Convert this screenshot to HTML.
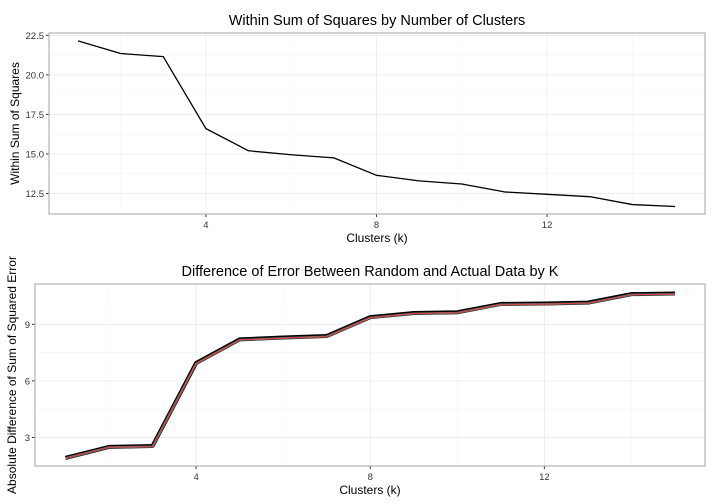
<!DOCTYPE html>
<html><head><meta charset="utf-8"><style>
body{margin:0;background:#fff;}
svg{display:block;font-family:"Liberation Sans",sans-serif;}
</style></head><body>
<svg id="c" width="720" height="504"></svg>
<script>
const ks=[1,2,3,4,5,6,7,8,9,10,11,12,13,14,15];
const wss=[22.15,21.35,21.15,16.6,15.2,14.95,14.75,13.65,13.3,13.1,12.6,12.45,12.3,11.8,11.68];
const diffRandom=[1.92,2.5,2.55,6.95,8.2,8.3,8.38,9.38,9.6,9.64,10.08,10.1,10.15,10.6,10.63];
const diffActual=[1.9,2.48,2.52,6.92,8.17,8.27,8.35,9.35,9.57,9.61,10.05,10.07,10.12,10.57,10.6];
const xTicks=[4,8,12];
const xMinor=[2,6,10,14];
const y1Ticks=[12.5,15,17.5,20,22.5];
const y1Labels=["12.5","15.0","17.5","20.0","22.5"];
const y1Minor=[13.75,16.25,18.75,21.25];
const y2Ticks=[3,6,9];
const y2Minor=[1.5,4.5,7.5,10.5];
const NS="http://www.w3.org/2000/svg";
const svg=document.getElementById('c');
function el(t,a,p){const e=document.createElementNS(NS,t);for(const k in a)e.setAttribute(k,a[k]);(p||svg).appendChild(e);return e;}
function lin(d0,d1,r0,r1){return v=>r0+(v-d0)*(r1-r0)/(d1-d0);}
function panel(o){
  const g=el('g',{});
  
  
  const x=lin(1,15,o.x1,o.x15), y=lin(o.ya,o.yb,o.pa,o.pb);
  o.yMinor.forEach(v=>el('line',{x1:o.L,x2:o.R,y1:y(v),y2:y(v),stroke:'#f5f5f5','stroke-width':0.6},g));
  xMinor.forEach(v=>el('line',{x1:x(v),x2:x(v),y1:o.T,y2:o.B,stroke:'#f5f5f5','stroke-width':0.6},g));
  o.yTicks.forEach((v,i)=>{
    el('line',{x1:o.L,x2:o.R,y1:y(v),y2:y(v),stroke:'#ececec','stroke-width':0.9},g);
    el('line',{x1:o.L-3,x2:o.L,y1:y(v),y2:y(v),stroke:'#333','stroke-width':1},g);
    const t=el('text',{x:o.L-5,y:y(v)+3.5,'text-anchor':'end','font-size':9.5,fill:'#333'},g);
    
    
    t.textContent=o.yLabels[i];
  });
  xTicks.forEach(v=>{
    el('line',{x1:x(v),x2:x(v),y1:o.T,y2:o.B,stroke:'#ececec','stroke-width':0.9},g);
    el('line',{x1:x(v),x2:x(v),y1:o.B,y2:o.B+3,stroke:'#333','stroke-width':1},g);
    const t=el('text',{x:x(v),y:o.B+14,'text-anchor':'middle','font-size':9.5,fill:'#333'},g);
    
    
    t.textContent=v;
  });
  el('rect',{x:o.L,y:o.T,width:o.R-o.L,height:o.B-o.T,fill:'none',stroke:'#b3b3b3','stroke-width':1.2},g);
  o.series.forEach(s=>{
    const p=el('polyline',{points:s.vals.map((v,i)=>x(ks[i])+','+(y(v)+(s.dy||0))).join(' '),fill:'none',stroke:s.c,'stroke-width':s.w,'stroke-linejoin':'round'},g);
    
    
  });
  const tt=el('text',{x:(o.L+o.R)/2,y:o.T-8,'text-anchor':'middle','font-size':14.5,fill:'#000'},g);
  
  
  tt.textContent=o.title;
  const xt=el('text',{x:(o.L+o.R)/2,y:o.B+28,'text-anchor':'middle','font-size':12,fill:'#000'},g);
  
  
  xt.textContent='Clusters (k)';
  const yt=el('text',{x:0,y:0,'text-anchor':'middle','font-size':12,fill:'#000',transform:`translate(${o.ytx},${(o.T+o.B)/2}) rotate(-90)`},g);
  
  
  yt.textContent=o.ytitle;
}
panel({name:'wss-panel',L:49,R:705,T:33,B:214,x1:78,x15:675,ya:12.5,yb:22.5,pa:193.5,pb:35.3,
  yTicks:y1Ticks,yLabels:y1Labels,yMinor:y1Minor,title:'Within Sum of Squares by Number of Clusters',
  ytitle:'Within Sum of Squares',ytx:19,series:[{name:'wss-line',vals:wss,c:'#000',w:1.3}]});
panel({name:'diff-panel',L:35,R:705,T:284,B:466,x1:65.5,x15:675,ya:3,yb:9,pa:437.5,pb:324.3,
  yTicks:y2Ticks,yLabels:y2Ticks.map(String),yMinor:y2Minor,title:'Difference of Error Between Random and Actual Data by K',
  ytitle:'Absolute Difference of Sum of Squared Error',ytx:16,
  series:[{name:'random-diff-line',vals:diffRandom,c:'#000',w:4},
          {name:'actual-diff-grey',vals:diffActual,c:'#666',w:2.2},
          {name:'actual-diff-line',vals:diffActual,c:'#e04545',w:1}]});
</script>
</body></html>
